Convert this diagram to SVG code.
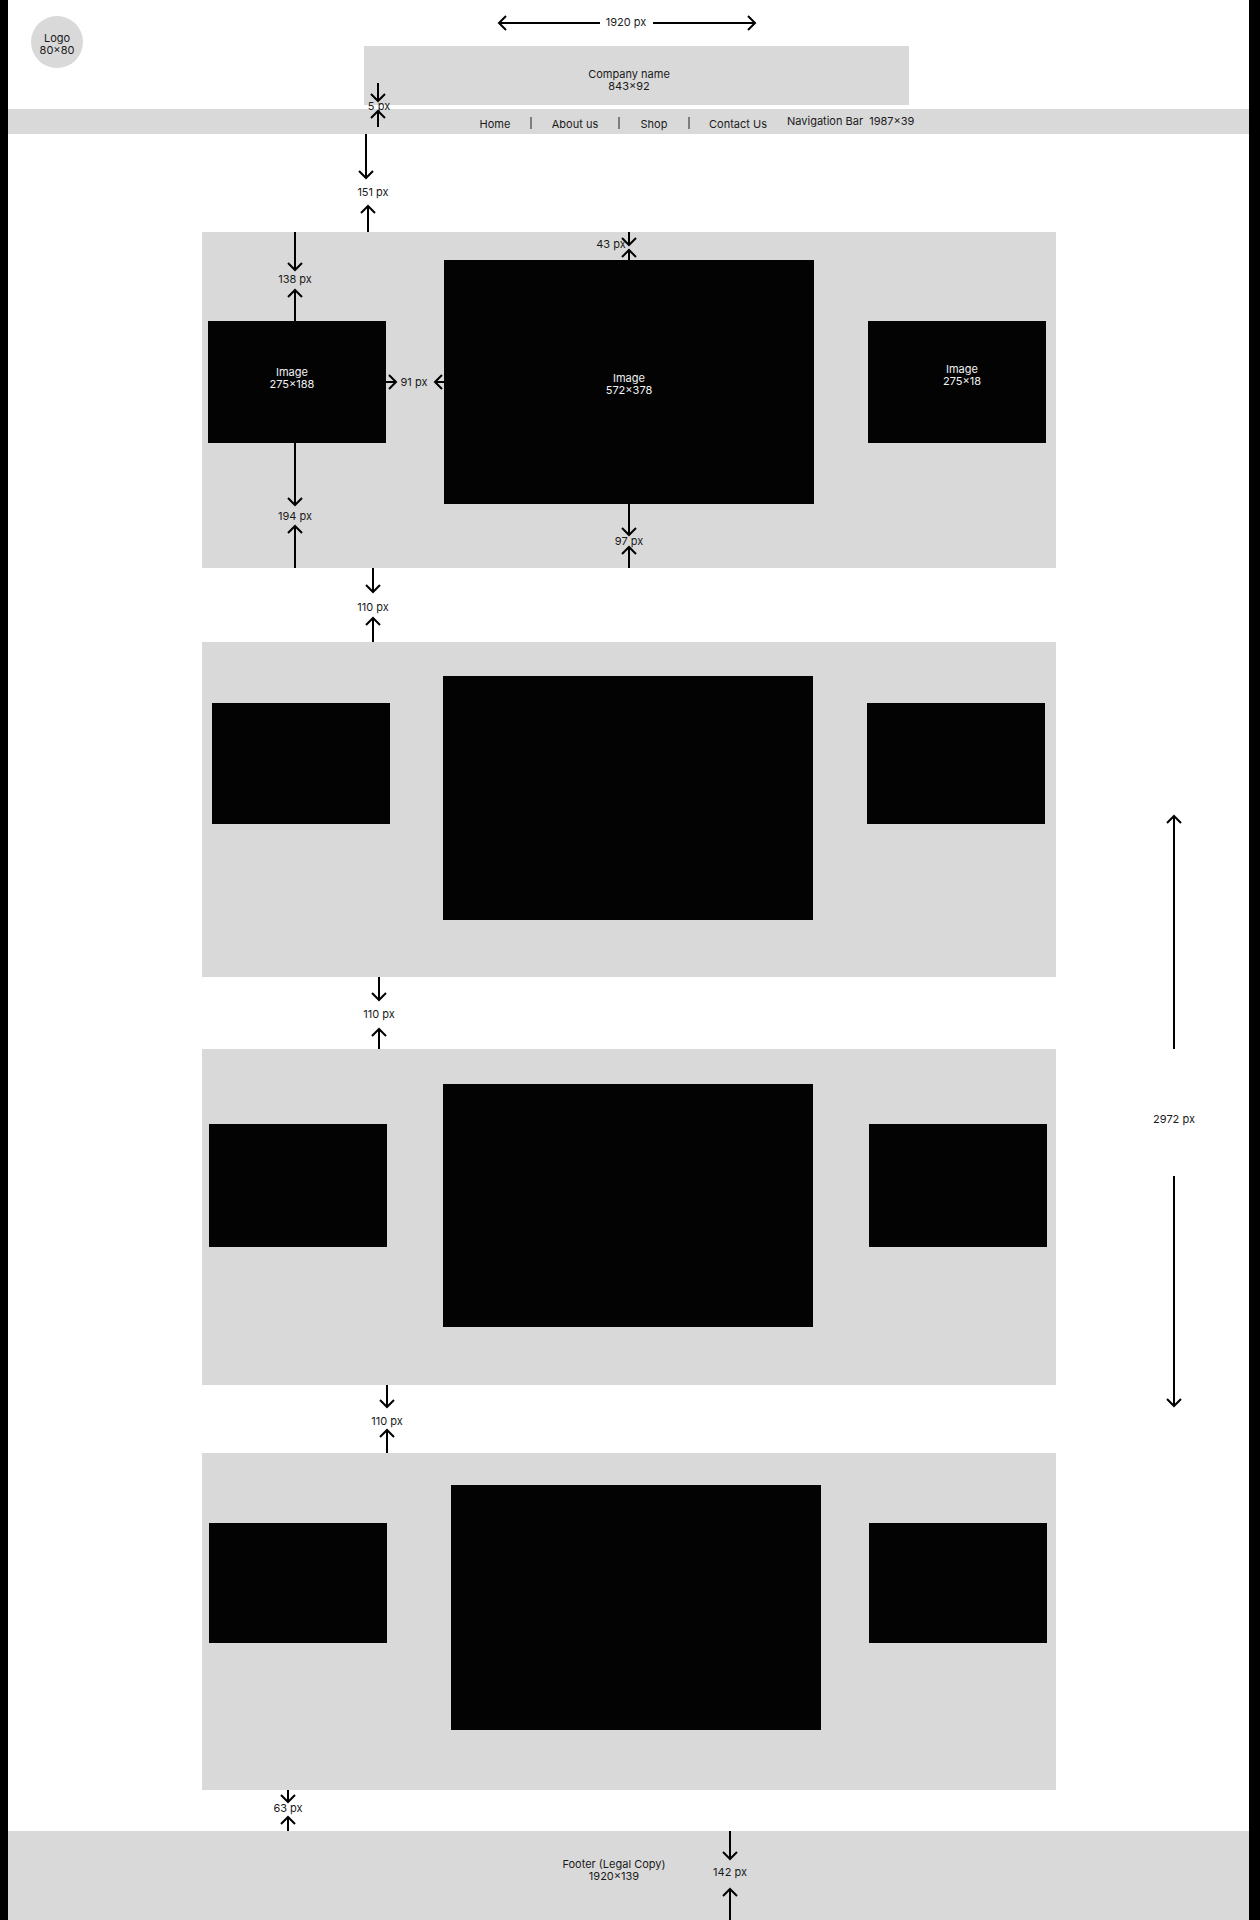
<svg xmlns="http://www.w3.org/2000/svg" width="1260" height="1920" viewBox="0 0 1260 1920">
<style>
text{font-family:Inter,"Liberation Sans",sans-serif;font-size:11px;fill:#1a1a1a;text-anchor:middle;dominant-baseline:central}
.w{fill:#f2f2f2}
.g{fill:#d9d9d9}
.img{fill:#030303}
.a{stroke:#000;stroke-width:2;fill:none;marker-end:url(#ah)}
.sep{stroke:#222;stroke-width:1}
</style>
<defs>
<marker id="ah" viewBox="-9 -9 11 18" refX="0" refY="0" markerWidth="11" markerHeight="18" markerUnits="userSpaceOnUse" orient="auto">
<path d="M-7,-7 L0,0 L-7,7" fill="none" stroke="#000" stroke-width="2"/>
</marker>
</defs>
<rect width="1260" height="1920" fill="#fff"/>
<rect x="0" y="0" width="8" height="1920" fill="#000"/>
<rect x="1249" y="0" width="11" height="1920" fill="#000"/>

<g id="logo"><circle cx="57" cy="42" r="26" class="g"/><text x="57" y="38">Logo</text><text x="57" y="50">80×80</text></g>
<g id="company"><rect x="364" y="46" width="545" height="59" class="g"/><text x="629" y="74">Company name</text><text x="629" y="86">843×92</text></g>
<g id="navbar"><rect x="8" y="109" width="1241" height="25" class="g"/>
<text x="495" y="124">Home</text><line x1="531" y1="117" x2="531" y2="129" class="sep"/>
<text x="575" y="124">About us</text><line x1="619" y1="117" x2="619" y2="129" class="sep"/>
<text x="654" y="124">Shop</text><line x1="689" y1="117" x2="689" y2="129" class="sep"/>
<text x="738" y="124">Contact Us</text>
<text x="787" y="121" style="text-anchor:start;white-space:pre" xml:space="preserve">Navigation Bar  1987×39</text></g>

<g id="section1"><rect x="202" y="232" width="854" height="336" class="g"/>
<rect x="208" y="321" width="178" height="122" class="img"/><text x="292" y="372" class="w">Image</text><text x="292" y="384" class="w">275×188</text>
<rect x="444" y="260" width="370" height="244" class="img"/><text x="629" y="378" class="w">Image</text><text x="629" y="390" class="w">572×378</text>
<rect x="868" y="321" width="178" height="122" class="img"/><text x="962" y="369" class="w">Image</text><text x="962" y="381" class="w">275×18</text></g>

<g id="section2"><rect x="202" y="642" width="854" height="335" class="g"/>
<rect x="212" y="703" width="178" height="121" class="img"/>
<rect x="443" y="676" width="370" height="244" class="img"/>
<rect x="867" y="703" width="178" height="121" class="img"/></g>

<g id="section3"><rect x="202" y="1049" width="854" height="336" class="g"/>
<rect x="209" y="1124" width="178" height="123" class="img"/>
<rect x="443" y="1084" width="370" height="243" class="img"/>
<rect x="869" y="1124" width="178" height="123" class="img"/></g>

<g id="section4"><rect x="202" y="1453" width="854" height="337" class="g"/>
<rect x="209" y="1523" width="178" height="120" class="img"/>
<rect x="451" y="1485" width="370" height="245" class="img"/>
<rect x="869" y="1523" width="178" height="120" class="img"/></g>

<g id="footer"><rect x="8" y="1831" width="1241" height="89" class="g"/><text x="614" y="1864">Footer (Legal Copy)</text><text x="614" y="1876">1920×139</text></g>

<g id="connectors">
<line x1="600" y1="23" x2="499" y2="23" class="a"/><text x="626" y="22">1920 px</text><line x1="653" y1="23" x2="755" y2="23" class="a"/>
<line x1="378" y1="83" x2="378" y2="101" class="a"/><text x="379" y="106">5 px</text><line x1="378" y1="127" x2="378" y2="111" class="a"/>
<line x1="366" y1="134" x2="366" y2="178" class="a"/><text x="373" y="192">151 px</text><line x1="368" y1="232" x2="368" y2="206" class="a"/>
<line x1="295" y1="232" x2="295" y2="270" class="a"/><text x="295" y="279">138 px</text><line x1="295" y1="321" x2="295" y2="290" class="a"/>
<line x1="295" y1="443" x2="295" y2="505" class="a"/><text x="295" y="516">194 px</text><line x1="295" y1="568" x2="295" y2="526" class="a"/>
<line x1="386" y1="382" x2="396" y2="382" class="a"/><text x="414" y="382">91 px</text><line x1="444" y1="382" x2="435" y2="382" class="a"/>
<line x1="629" y1="232" x2="629" y2="245" class="a"/><text x="611" y="244">43 px</text><line x1="629" y1="260" x2="629" y2="250" class="a"/>
<line x1="629" y1="504" x2="629" y2="535" class="a"/><text x="629" y="541">97 px</text><line x1="629" y1="568" x2="629" y2="547" class="a"/>
<line x1="373" y1="568" x2="373" y2="592" class="a"/><text x="373" y="607">110 px</text><line x1="373" y1="642" x2="373" y2="618" class="a"/>
<line x1="379" y1="977" x2="379" y2="1000" class="a"/><text x="379" y="1014">110 px</text><line x1="379" y1="1049" x2="379" y2="1029" class="a"/>
<line x1="387" y1="1385" x2="387" y2="1407" class="a"/><text x="387" y="1421">110 px</text><line x1="387" y1="1453" x2="387" y2="1430" class="a"/>
<line x1="288" y1="1790" x2="288" y2="1802" class="a"/><text x="288" y="1808">63 px</text><line x1="288" y1="1831" x2="288" y2="1817" class="a"/>
<line x1="730" y1="1831" x2="730" y2="1859" class="a"/><text x="730" y="1872">142 px</text><line x1="730" y1="1920" x2="730" y2="1889" class="a"/>
<line x1="1174" y1="1049" x2="1174" y2="816" class="a"/><text x="1174" y="1119">2972 px</text><line x1="1174" y1="1176" x2="1174" y2="1406" class="a"/>
</g>
</svg>
